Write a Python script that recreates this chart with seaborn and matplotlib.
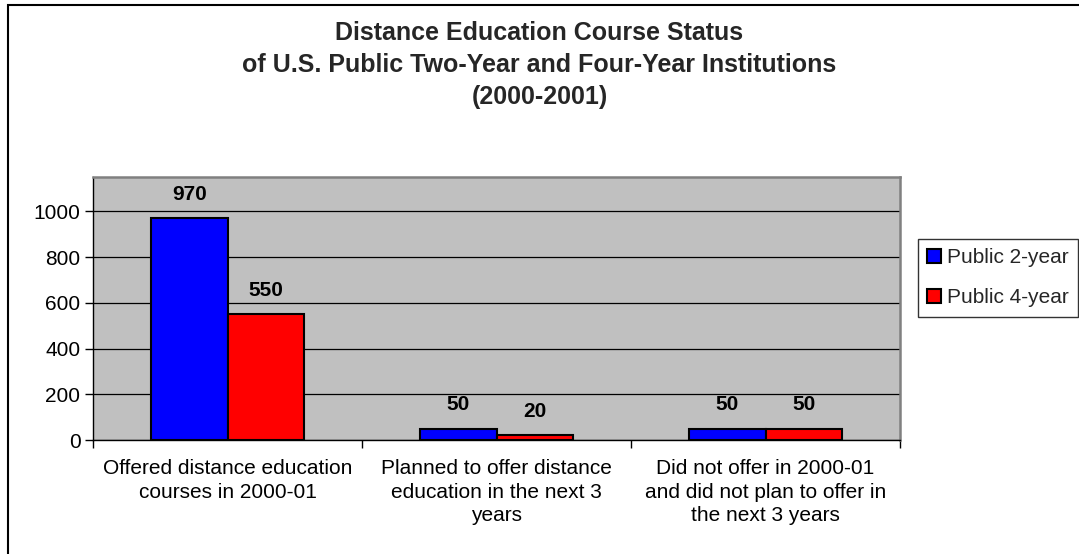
import matplotlib
matplotlib.use("Agg")
import matplotlib.pyplot as plt
from matplotlib.patches import Rectangle, Patch
import seaborn as sns
import pandas as pd

categories = [
    "Offered distance education\ncourses in 2000-01",
    "Planned to offer distance\neducation in the next 3\nyears",
    "Did not offer in 2000-01\nand did not plan to offer in\nthe next 3 years",
]
series_names = ["Public 2-year", "Public 4-year"]
public_2year = [970, 50, 50]
public_4year = [550, 20, 50]
yticks = [0, 200, 400, 600, 800, 1000]
colors = ["#0000FF", "#FF0000"]
title = "Distance Education Course Status\nof U.S. Public Two-Year and Four-Year Institutions\n(2000-2001)"

df = pd.DataFrame({
    "category": categories * 2,
    "series": [series_names[0]] * 3 + [series_names[1]] * 3,
    "value": public_2year + public_4year,
})

sns.set_theme(style="white")
plt.rcParams["font.family"] = ["Liberation Sans", "DejaVu Sans"]

fig = plt.figure(figsize=(10.79, 5.54), dpi=100)
ax = fig.add_axes([93 / 1079, 1 - 440 / 554, (900 - 93) / 1079, (440 - 177) / 554])
ax.set_facecolor("#C0C0C0")

sns.barplot(data=df, x="category", y="value", hue="series", order=categories,
            hue_order=series_names, palette=colors, width=0.57, gap=0,
            edgecolor="black", linewidth=1.5, saturation=1, ax=ax, legend=False,
            errorbar=None, zorder=3)

ax.set_xlim(-0.5, 2.5)
ax.set_ylim(0, 1150)
ax.set_yticks(yticks)
ax.set_yticklabels([str(v) for v in yticks], fontsize=15)
ax.set_xlabel("")
ax.set_ylabel("")
ax.yaxis.grid(True, color="black", linewidth=0.9, zorder=0)
ax.set_axisbelow(True)

ax.tick_params(axis="x", which="major", length=0, pad=14, labelsize=15, colors="black")
ax.set_xticks([-0.5, 0.5, 1.5, 2.5], minor=True)
ax.tick_params(axis="x", which="minor", length=6, width=1, direction="out", color="black", bottom=True)
ax.tick_params(axis="y", length=6, width=1, direction="out", pad=3, colors="black", left=True)
for lab in ax.get_xticklabels():
    lab.set_linespacing(1.3)
    lab.set_horizontalalignment("center")

for side in ["left", "bottom"]:
    ax.spines[side].set_color("black")
    ax.spines[side].set_linewidth(1.0)
for side in ["top", "right"]:
    ax.spines[side].set_color("#808080")
    ax.spines[side].set_linewidth(1.8)

for container in ax.containers:
    for bar in container:
        h = bar.get_height()
        ax.annotate(f"{h:.0f}", (bar.get_x() + bar.get_width() / 2, h),
                    xytext=(0, 17), textcoords="offset points", ha="center", va="center",
                    fontsize=15, fontweight="bold", color="black", zorder=5)

fig.text(0.5, 1 - 65 / 554, title, ha="center", va="center", fontsize=18,
         fontweight="bold", linespacing=1.4)

handles = [Patch(facecolor=c, edgecolor="black", linewidth=1.5) for c in colors]
leg = fig.legend(handles, series_names, loc="upper left",
                 bbox_to_anchor=(918 / 1079, 1 - 239 / 554), frameon=True,
                 fancybox=False, fontsize=15, handlelength=0.65, handleheight=0.65,
                 handletextpad=0.3, borderpad=0.45, labelspacing=1.0, borderaxespad=0)
leg.get_frame().set_edgecolor("black")
leg.get_frame().set_linewidth(1.0)

fig.patches.append(Rectangle((8 / 1079, -0.1), 1.2, 1 - 5 / 554 + 0.1,
                             transform=fig.transFigure, fill=False,
                             edgecolor="black", linewidth=1.5))

fig.savefig("out.png", dpi=100, facecolor="white")
